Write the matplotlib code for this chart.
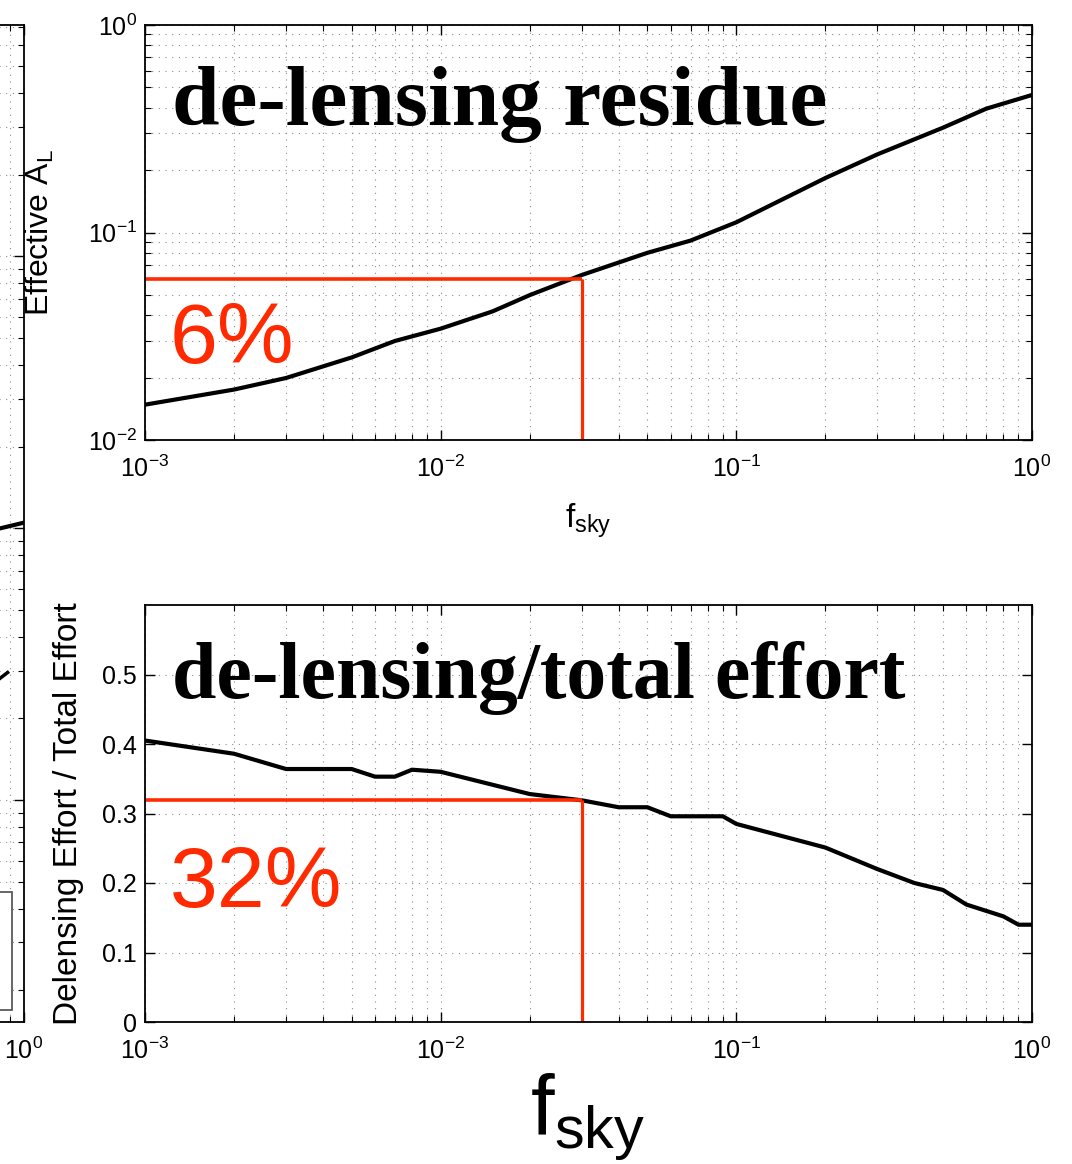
import matplotlib
matplotlib.use("Agg")
import matplotlib.pyplot as plt
from matplotlib.ticker import FixedLocator, NullFormatter
from matplotlib.patches import Rectangle

plt.rcParams['font.family'] = ['Liberation Sans', 'DejaVu Sans']
plt.rcParams['mathtext.default'] = 'regular'

# ---- data ----
fsky_top = [0.001, 0.002, 0.003, 0.005, 0.007, 0.01, 0.015, 0.02, 0.03, 0.05, 0.07,
            0.1, 0.2, 0.3, 0.5, 0.7, 1.0]
AL_eff = [0.0148, 0.0175, 0.0199, 0.025, 0.030, 0.0344, 0.0417, 0.0499, 0.0624, 0.0798, 0.0914,
          0.112, 0.183, 0.238, 0.32, 0.395, 0.46]

fsky_bot = [0.001, 0.002, 0.003, 0.005, 0.006, 0.007, 0.008, 0.01, 0.02, 0.03, 0.04,
            0.05, 0.06, 0.09, 0.1, 0.2, 0.3, 0.4, 0.5, 0.6, 0.8, 0.9, 1.0]
effort_ratio = [0.405, 0.386, 0.364, 0.364, 0.353, 0.353, 0.363, 0.36, 0.328, 0.319, 0.309,
                0.309, 0.296, 0.296, 0.285, 0.251, 0.22, 0.2, 0.19, 0.169, 0.152, 0.14, 0.14]

sel_fsky = 0.03
sel_AL = 0.06
sel_ratio = 0.32

# fragment of the neighbouring (cropped) panel on the left
frag_x1 = [0.83, 1.0]
frag_y1 = [0.100, 0.105]
frag_x2 = [0.83, 0.88]
frag_y2 = [0.0281, 0.0295]

red = '#ff2a00'
TICK_FS = 18

fig = plt.figure(figsize=(10.72, 11.64), dpi=100)

def style(ax):
    ax.tick_params(which='both', direction='in', top=True, right=True,
                   labelsize=TICK_FS)
    ax.tick_params(axis='x', which='both', pad=11)
    ax.tick_params(axis='y', which='both', pad=6)
    ax.tick_params(which='major', length=7, width=1)
    ax.tick_params(which='minor', length=4, width=0.8)
    ax.grid(which='both', linestyle=(0, (1, 5)), color='0.55', linewidth=0.8)
    for s in ax.spines.values():
        s.set_linewidth(1.3)

# ---- fragment axes (mostly off-figure on the left) ----
axf = fig.add_axes([24/1072 - 887/1072, 0.122, 887/1072, 997/1164])
axf.set_xscale('log'); axf.set_yscale('log')
axf.set_xlim(1e-3, 1); axf.set_ylim(1.53e-3, 7.1)
axf.plot(frag_x1, frag_y1, color='k', lw=3)
axf.plot(frag_x2, frag_y2, color='k', lw=2.5)
style(axf)
axf.yaxis.set_major_formatter(NullFormatter())
axf.yaxis.set_minor_formatter(NullFormatter())
axf.xaxis.set_major_locator(FixedLocator([1.0]))
axf.add_patch(Rectangle((0.5, 0.012), 1 - 12/887 - 0.5, 0.118, transform=axf.transAxes,
                        facecolor='white', edgecolor='0.3', lw=1.2, zorder=5))

# ---- top axes ----
ax1 = fig.add_axes([145/1072, 1 - 440/1164, 887/1072, 415/1164])
ax1.set_xscale('log'); ax1.set_yscale('log')
ax1.set_xlim(1e-3, 1); ax1.set_ylim(1e-2, 1)
ax1.plot(fsky_top, AL_eff, color='k', lw=3)
ax1.plot([1e-3, sel_fsky], [sel_AL, sel_AL], color=red, lw=2.6, clip_on=False, solid_capstyle='butt')
ax1.plot([sel_fsky, sel_fsky], [sel_AL, 1e-2], color=red, lw=2.3, solid_capstyle='butt')
style(ax1)
ax1.set_ylabel('Effective $A_L$', fontsize=23)
ax1.yaxis.set_label_coords(-0.1, 0.5)
ax1.set_xlabel('$f_{sky}$', fontsize=24, labelpad=14)
ax1.text(0.0304, 0.759, 'de-lensing residue', transform=ax1.transAxes,
         fontsize=61.5, fontweight='bold', family='Liberation Serif', va='baseline')
ax1.text(0.028, 0.1855, '6%', transform=ax1.transAxes, color=red, fontsize=62, va='baseline')

# ---- bottom axes ----
ax2 = fig.add_axes([145/1072, 1 - 1022/1164, 887/1072, 417/1164])
ax2.set_xscale('log')
ax2.set_xlim(1e-3, 1); ax2.set_ylim(0, 0.6)
ax2.plot(fsky_bot, effort_ratio, color='k', lw=3)
ax2.plot([1e-3, sel_fsky], [sel_ratio, sel_ratio], color=red, lw=2.6, clip_on=False, solid_capstyle='butt')
ax2.plot([sel_fsky, sel_fsky], [sel_ratio, 0], color=red, lw=2.3, solid_capstyle='butt')
style(ax2)
ax2.set_yticks([0, 0.1, 0.2, 0.3, 0.4, 0.5])
ax2.set_yticklabels(['0', '0.1', '0.2', '0.3', '0.4', '0.5'])
ax2.set_ylabel('Delensing Effort / Total Effort', fontsize=24)
ax2.yaxis.set_label_coords(-0.069, 0.5)
ax2.text(0.0304, 0.777, 'de-lensing/total effort', transform=ax2.transAxes,
         fontsize=57.4, fontweight='bold', family='Liberation Serif', va='baseline')
ax2.text(0.028, 0.276, '32%', transform=ax2.transAxes, color=red, fontsize=62, va='baseline')

fig.text(588/1072, 1 - 1117/1164, '$f_{sky}$', fontsize=61, ha='center', va='center')

fig.savefig('out.png', dpi=100)
